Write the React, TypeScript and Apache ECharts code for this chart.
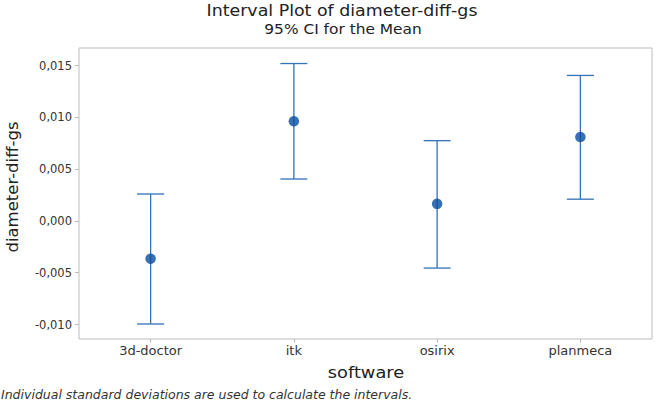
import React, { useEffect, useRef } from "react";
import * as echarts from "echarts";

const categories = ["3d-doctor", "itk", "osirix", "planmeca"];
const means = [-0.00365, 0.00962, 0.00165, 0.0081];
const lowerCI = [-0.00995, 0.00405, -0.00455, 0.0021];
const upperCI = [0.0026, 0.0152, 0.00775, 0.01405];
const yMin = -0.0114;
const yMax = 0.0167;

const FONT = "'DejaVu Sans', 'Noto Sans', sans-serif";

export default function App() {
  const ref = useRef<HTMLDivElement>(null);
  useEffect(() => {
    if (!ref.current) return;
    const chart = echarts.init(ref.current, null, { renderer: "svg" });
    const barData = categories.map((c, i) => [i, lowerCI[i], upperCI[i]]);
    chart.setOption({
      animation: false,
      backgroundColor: "#ffffff",
      textStyle: { fontFamily: FONT },
      grid: { left: 79, right: 17, top: 48, bottom: 61, show: true, borderColor: "#bdbdbd", borderWidth: 1, containLabel: false },
      graphic: [
        { type: "text", x: 342, y: 11, scaleX: 1.16, style: { text: "Interval Plot of diameter-diff-gs", font: `15px ${FONT}`, fill: "#222", align: "center", verticalAlign: "middle" } },
        { type: "text", x: 343, y: 29, scaleX: 1.1, style: { text: "95% CI for the Mean", font: `14px ${FONT}`, fill: "#222", align: "center", verticalAlign: "middle" } },
        { type: "text", x: 12, y: 187, rotation: Math.PI / 2, style: { text: "diameter-diff-gs", font: `16.5px ${FONT}`, fill: "#222", align: "center", verticalAlign: "middle" } },
        { type: "text", x: 366, y: 372, scaleX: 1.08, style: { text: "software", font: `16.5px ${FONT}`, fill: "#222", align: "center", verticalAlign: "middle" } },
        { type: "text", x: 1, y: 394, style: { text: "Individual standard deviations are used to calculate the intervals.", font: `italic 12.5px ${FONT}`, fill: "#333", align: "left", verticalAlign: "middle" } },
      ],
      xAxis: {
        type: "category",
        data: categories,
        boundaryGap: true,
        axisLine: { show: false, onZero: false },
        axisTick: { show: true, alignWithLabel: true, length: 4, lineStyle: { color: "#bdbdbd" } },
        axisLabel: { fontSize: 13, color: "#333", margin: 5, fontFamily: FONT },
        splitLine: { show: false },
      },
      yAxis: {
        type: "value",
        min: yMin,
        max: yMax,
        axisLine: { show: false, onZero: false },
        axisTick: { show: true, length: 4, lineStyle: { color: "#bdbdbd" } },
        axisLabel: {
          fontSize: 11.5,
          color: "#333",
          margin: 7,
          showMinLabel: false,
          showMaxLabel: false,
          fontFamily: FONT,
          formatter: (v: number) => v.toFixed(3).replace(".", ","),
        },
        splitLine: { show: false },
      },
      series: [
        {
          type: "custom",
          data: barData,
          encode: { x: 0, y: [1, 2] },
          renderItem: (params: any, api: any) => {
            const x = api.value(0);
            const lo = api.coord([x, api.value(1)]);
            const hi = api.coord([x, api.value(2)]);
            const hw = 13.5;
            const style = { stroke: "#3371b8", lineWidth: 1.3 };
            return {
              type: "group",
              children: [
                { type: "line", shape: { x1: lo[0], y1: lo[1], x2: hi[0], y2: hi[1] }, style },
                { type: "line", shape: { x1: lo[0] - hw, y1: lo[1], x2: lo[0] + hw, y2: lo[1] }, style },
                { type: "line", shape: { x1: hi[0] - hw, y1: hi[1], x2: hi[0] + hw, y2: hi[1] }, style },
              ],
            };
          },
          z: 2,
        },
        {
          type: "scatter",
          data: means.map((m, i) => [i, m]),
          symbol: "circle",
          symbolSize: 10.5,
          itemStyle: { color: "#064c9f" },
          z: 3,
        },
      ],
    });
    return () => chart.dispose();
  }, []);
  return <div ref={ref} style={{ width: 669, height: 400, position: "absolute", left: 0, top: 0 }} />;
}
